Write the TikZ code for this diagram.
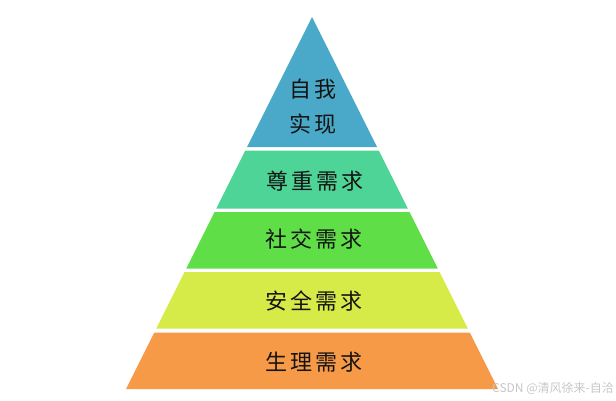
\documentclass[tikz,border=0pt]{standalone}
\usepackage{fontspec}
\newfontfamily\cjk[LetterSpace=14]{Noto Sans CJK SC}
\newfontfamily\cjkmark{Noto Sans CJK SC}
\usetikzlibrary{positioning}

\definecolor{topblue}{RGB}{74,168,200}
\definecolor{layerteal}{RGB}{78,212,150}
\definecolor{layergreen}{RGB}{96,222,72}
\definecolor{layerlime}{RGB}{214,234,72}
\definecolor{layerorange}{RGB}{246,154,72}

\tikzset{
	levellabel/.style={inner sep=0pt, text=black!92, font=\cjk\fontsize{22}{35}\selectfont},
}

\begin{document}
\begin{tikzpicture}[x=1pt, y=-1pt]
		\useasboundingbox (0, 0) rectangle (616, 400);

		% pyramid layers, top to bottom
		\fill[topblue] (312, 17) -- (377, 147) -- (247, 147) -- cycle;
		\fill[layerteal] (245.25, 150.5) -- (378.75, 150.5) -- (407.75, 208.5) -- (216.25, 208.5) -- cycle;
		\fill[layergreen] (214.5, 212) -- (409.5, 212) -- (437.75, 268.5) -- (186.25, 268.5) -- cycle;
		\fill[layerlime] (184.5, 272) -- (439.5, 272) -- (467.75, 328.5) -- (156.25, 328.5) -- cycle;
		\fill[layerorange] (154.25, 332.5) -- (469.75, 332.5) -- (498, 389) -- (126, 389) -- cycle;

		\node[levellabel, align=center] (self) at (313, 106.5) {自我\\实现};
		\node[levellabel] (esteem) at (315, 181) {尊重需求};
		\node[levellabel] (social) at (314, 239) {社交需求};
		\node[levellabel] (safety) at (314, 301) {安全需求};
		\node[levellabel] (body) at (314, 362) {生理需求};

		\node[anchor=west, inner sep=0pt, text=black!22, font=\cjkmark\fontsize{12}{14}\selectfont] (mark) at (492, 388) {CSDN @清风徐来-自洽};
	\end{tikzpicture}
\end{document}
